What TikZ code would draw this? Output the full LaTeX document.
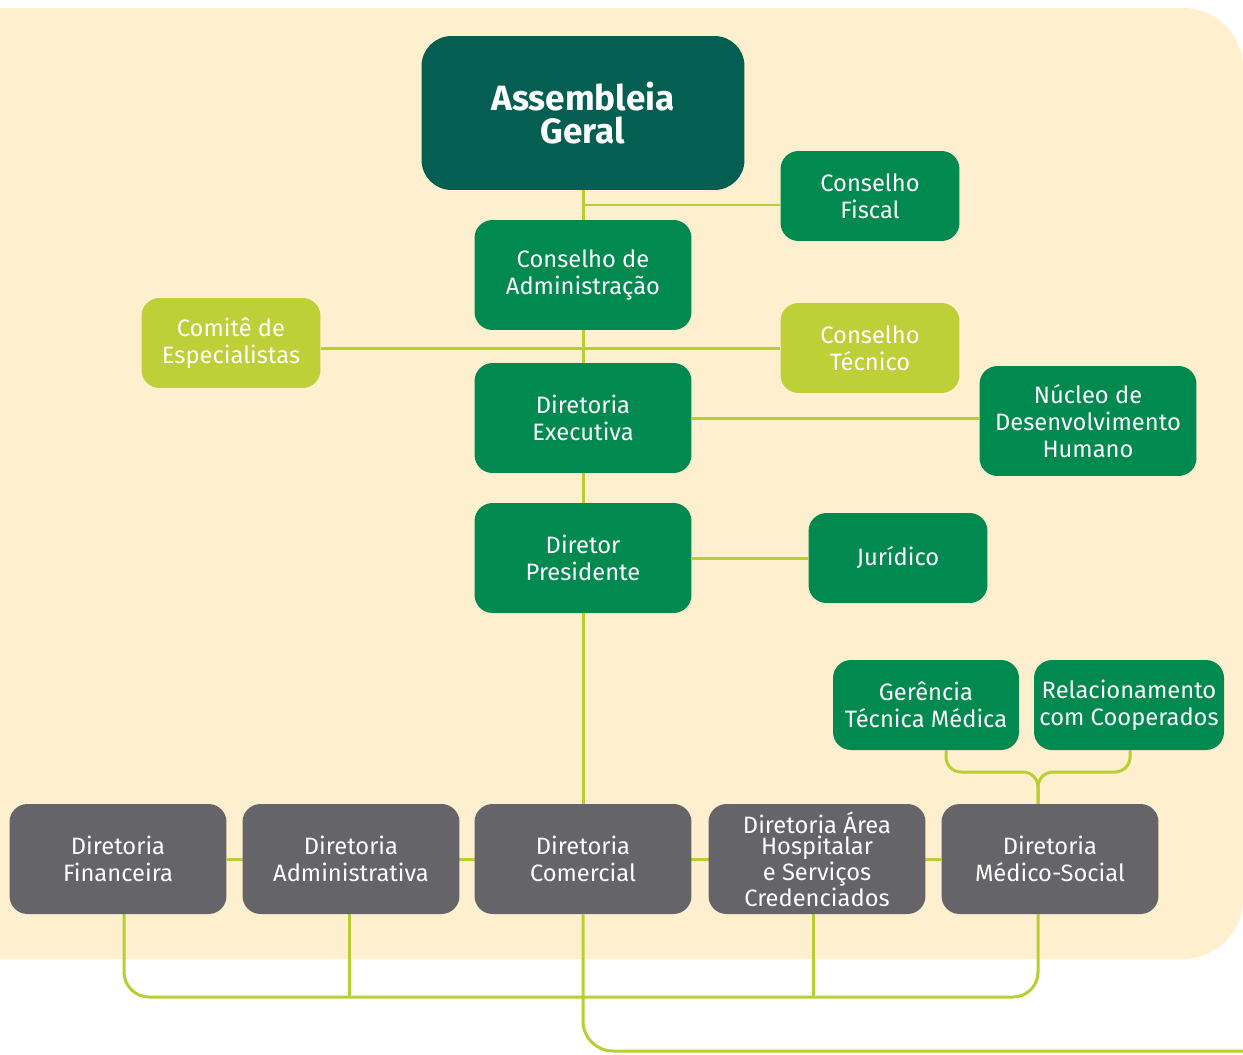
\documentclass[tikz,border=0pt]{standalone}
\usepackage{fontspec}
\setmainfont{Fira Sans}
\usetikzlibrary{positioning, backgrounds}
\definecolor{cream}{HTML}{FEF0CE}
\definecolor{agteal}{HTML}{045F52}
\definecolor{unigreen}{HTML}{008A4F}
\definecolor{unilime}{HTML}{BDD038}
\definecolor{unigrey}{HTML}{646469}
\definecolor{linklime}{HTML}{B8CF31}

\begin{document}
\begin{tikzpicture}
    [
        x=0.02cm, y=-0.02cm,
        box/.style={rounded corners=0.36cm, text=white, align=center, inner sep=0pt,
            font=\fontsize{13.5}{15.4}\selectfont},
        bigbox/.style={box, fill=unigreen, minimum width=4.34cm, minimum height=2.2cm},
        smallbox/.style={box, fill=unigreen, minimum width=3.58cm, minimum height=1.8cm},
        limebox/.style={smallbox, fill=unilime},
        greybox/.style={bigbox, fill=unigrey},
        link/.style={draw=linklime, line width=0.06cm}
    ]

    \clip (0,0) rectangle (1243,1054);

    % top of the chart
    \node[box, fill=agteal, minimum width=6.46cm, minimum height=3.08cm, rounded corners=0.6cm,
        font=\bfseries\fontsize{20}{19}\selectfont] (ag) at (583,113) {Assembleia\\Geral};
    \node[smallbox] (cfis) at (870,196) {Conselho\\Fiscal};
    \node[bigbox] (cadm) at (583,275) {Conselho de\\Administração};
    \node[limebox] (cesp) at (231,343) {Comitê de\\Especialistas};
    \node[limebox] (ctec) at (870,348) {Conselho\\Técnico};
    \node[bigbox] (dex) at (583,418) {Diretoria\\Executiva};
    \node[bigbox] (nucleo) at (1088,421) {Núcleo de\\Desenvolvimento\\Humano};
    \node[bigbox] (dpres) at (583,558) {Diretor\\Presidente};
    \node[smallbox] (jur) at (898,558) {Jurídico};

    % medical side
    \node[smallbox, minimum width=3.72cm] (ger) at (926,705) {Gerência\\Técnica Médica};
    \node[smallbox, minimum width=3.8cm] (rel) at (1129,705) {Relacionamento\\com Cooperados};

    % directorates
    \node[greybox] (dfin) at (118,859) {Diretoria\\Financeira};
    \node[greybox] (dadm) at (351,859) {Diretoria\\Administrativa};
    \node[greybox] (dcom) at (583,859) {Diretoria\\Comercial};
    \node[greybox, font=\fontsize{13.5}{12.4}\selectfont] (dhos) at (817,859)
        {Diretoria Área\\Hospitalar\\e Serviços\\Credenciados};
    \node[greybox] (dmed) at (1050,859) {Diretoria\\Médico-Social};

    \coordinate (fisj) at (583,205);
    \coordinate (medtop) at (1038,804);
    \coordinate (finbot) at (124,913);
    \coordinate (admbot) at (349,913);
    \coordinate (hosbot) at (813,913);
    \coordinate (medbot) at (1038,913);
    \coordinate (rightend) at (1243,1051);

    \begin{pgfonlayer}{background}
        \fill[cream, rounded corners=1.2cm] (-100,8) rectangle (1243,959);

        \draw[link] (ag.south) -- (dcom.north);
        \draw[link] (fisj) -- (fisj -| cfis.west);
        \draw[link] (cesp.east |- ctec.west) -- (ctec.west);
        \draw[link] (dex) -- (nucleo.west |- dex);
        \draw[link] (dpres) -- (jur);
        \draw[link] (dfin) -- (dmed);

        \draw[link, rounded corners=0.3cm] (ger.south -| 946,0) -- (946,772) -- (medtop |- 0,772) -- (medtop);
        \draw[link, rounded corners=0.3cm] (rel.south -| 1130,0) -- (1130,772) -- (medtop |- 0,772) -- (medtop);

        \draw[link, rounded corners=0.5cm] (finbot) -- (124,997) -- (1038,997) -- (medbot);
        \draw[link] (admbot) -- (admbot |- 0,997);
        \draw[link] (hosbot) -- (hosbot |- 0,997);
        \draw[link, rounded corners=0.6cm] (dcom.south) -- (dcom.south |- rightend) -- (rightend);
    \end{pgfonlayer}

\end{tikzpicture}
\end{document}
